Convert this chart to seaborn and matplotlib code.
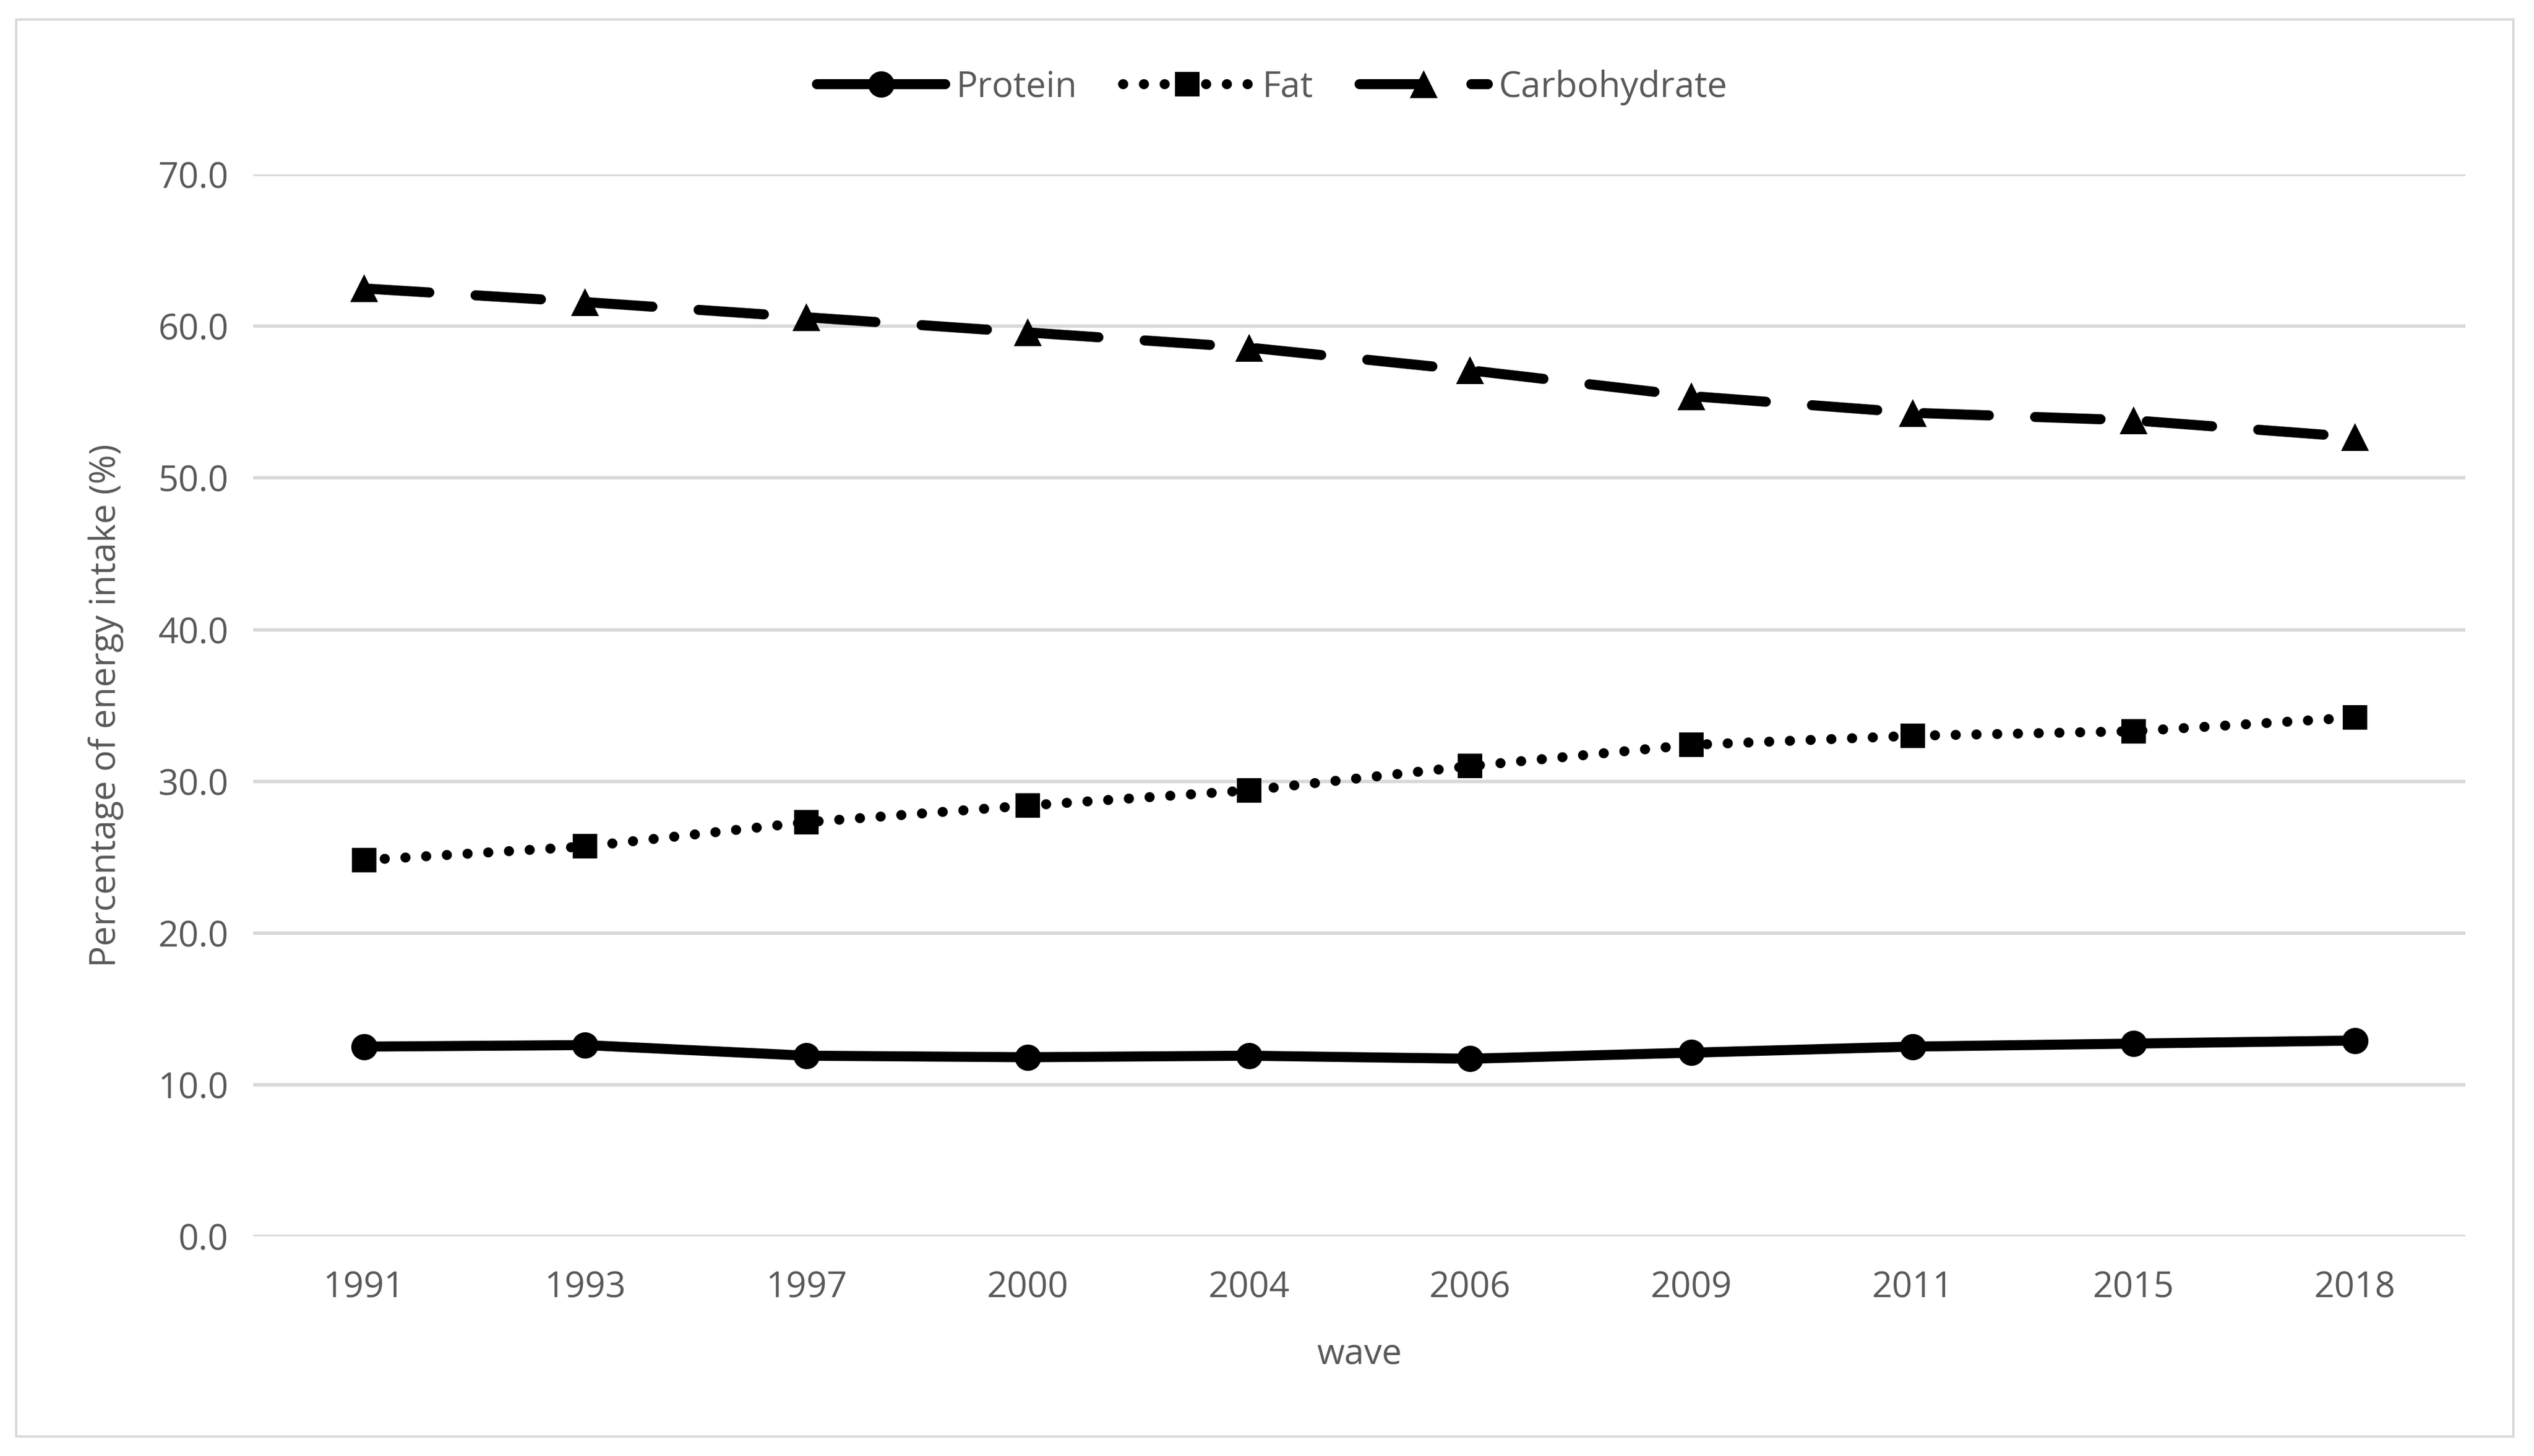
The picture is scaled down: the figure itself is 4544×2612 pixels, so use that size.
import matplotlib
matplotlib.use("Agg")
import matplotlib.pyplot as plt
import seaborn as sns
import pandas as pd
from matplotlib.patches import Rectangle
from matplotlib.ticker import FormatStrFormatter

# Daten
waves = ['1991', '1993', '1997', '2000', '2004', '2006', '2009', '2011', '2015', '2018']
protein = [12.5, 12.6, 11.9, 11.8, 11.9, 11.7, 12.1, 12.5, 12.7, 12.9]
fat = [24.8, 25.7, 27.3, 28.4, 29.4, 31.0, 32.4, 33.0, 33.3, 34.2]
carbohydrate = [62.5, 61.6, 60.6, 59.6, 58.6, 57.1, 55.4, 54.3, 53.8, 52.7]

df = pd.DataFrame({'wave': waves, 'Protein': protein, 'Fat': fat, 'Carbohydrate': carbohydrate})

sns.set_style('white')
plt.rcParams['font.family'] = ['Open Sans', 'DejaVu Sans']
txt = '#595959'
grid = '#D9D9D9'
lw = 6.5

fig = plt.figure(figsize=(22.72, 13.06), dpi=200)
ax = fig.add_axes([0.100, 0.151, 0.873, 0.729])

# Serien zeichnen
common = dict(ax=ax, color='black', linewidth=lw, markeredgecolor='black', markeredgewidth=0, sort=False)
sns.lineplot(x='wave', y='Protein', data=df, marker='o', markersize=17, label='Protein', **common)
sns.lineplot(x='wave', y='Fat', data=df, linestyle=(0, (0.01, 2.05)), dash_capstyle='round',
             marker='s', markersize=16, label='Fat', **common)
sns.lineplot(x='wave', y='Carbohydrate', data=df, linestyle=(0, (6.5, 4.6)), dash_capstyle='round',
             marker='^', markersize=18, label='Carbohydrate', **common)

# Achsen
ax.set_ylim(0, 70)
ax.set_yticks(range(0, 71, 10))
ax.yaxis.set_major_formatter(FormatStrFormatter('%.1f'))
ax.set_xlim(-0.5, len(waves) - 0.5)
ax.grid(axis='y', color=grid, linewidth=2.2)
ax.set_axisbelow(True)
for s in ax.spines.values():
    s.set_visible(False)
ax.tick_params(axis='x', length=0, labelsize=23, labelcolor=txt, pad=22)
ax.tick_params(axis='y', length=0, labelsize=23, labelcolor=txt, pad=16)
ax.set_xlabel('wave', fontsize=23, color=txt, labelpad=20)
ax.set_ylabel('Percentage of energy intake (%)', fontsize=23, color=txt, labelpad=22)

# Legende
h, l = ax.get_legend_handles_labels()
ax.get_legend().remove()
fig.legend(h, l, loc='center', bbox_to_anchor=(0.502, 0.940), ncol=3, frameon=False,
           fontsize=23, labelcolor=txt, handlelength=3.6, columnspacing=1.3, handletextpad=0.3)

# Rahmen
fig.patches.append(Rectangle((29 / 4544, 1 - 2577 / 2612), (4507 - 29) / 4544, (2577 - 35) / 2612,
                             transform=fig.transFigure, fill=False, edgecolor=grid, linewidth=1.5))

fig.savefig('out.png', dpi=200)
